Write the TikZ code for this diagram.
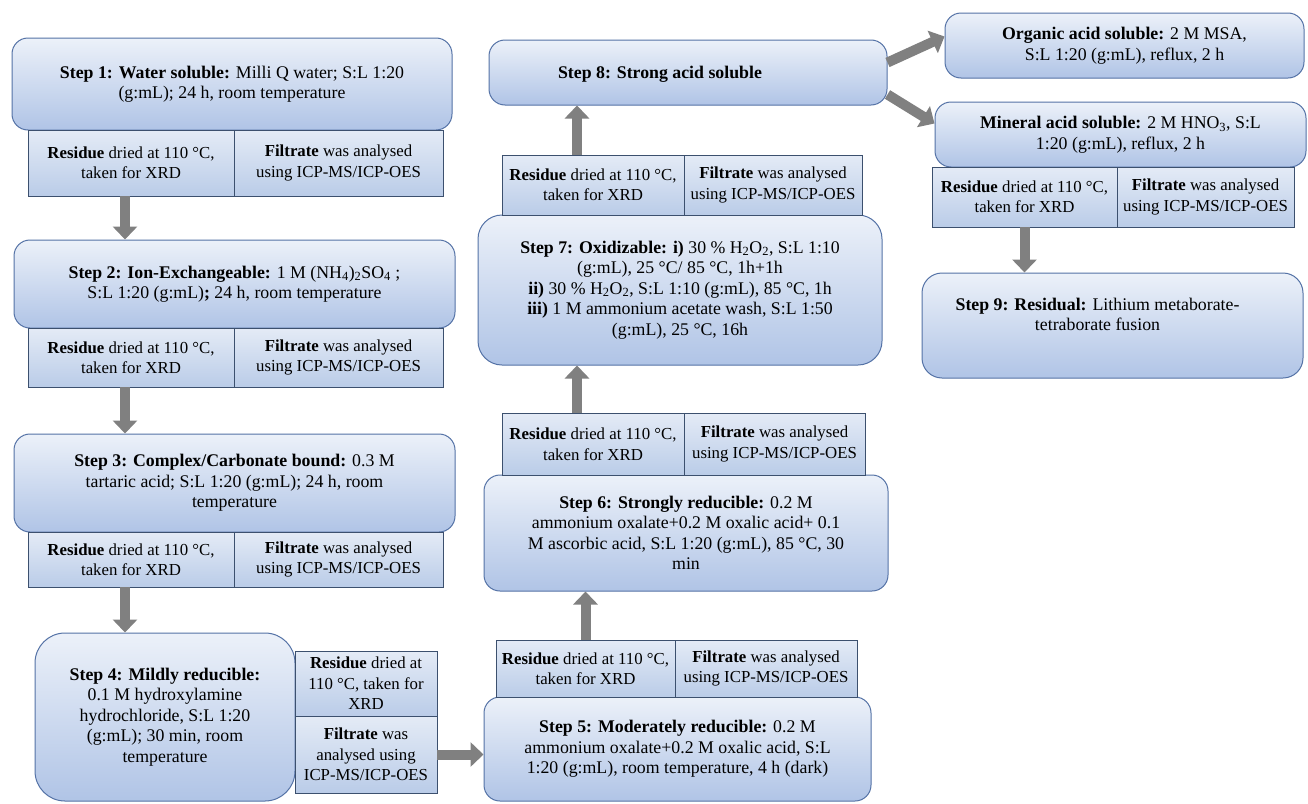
\documentclass[tikz,border=0pt]{standalone}
\usepackage{fontspec}
\setmainfont{Liberation Serif}
\usepackage{tikz}
\usetikzlibrary{arrows.meta}
\definecolor{boxline}{RGB}{84,114,166}
\definecolor{resline}{RGB}{60,80,110}
\definecolor{boxtop}{RGB}{236,241,249}
\definecolor{boxbottom}{RGB}{176,196,230}
\definecolor{restop}{RGB}{228,235,246}
\definecolor{resbottom}{RGB}{186,204,232}
\definecolor{arrowgray}{RGB}{128,128,128}
\newcommand{\residuetext}{\textbf{Residue} dried at 110 °C,\\ taken for XRD}
\newcommand{\filtratetext}{\textbf{Filtrate} was analysed\\ using ICP-MS/ICP-OES}
\tikzset{
  every node/.style={font=\fontsize{17.8}{20.5}\selectfont},
  stepbox/.style={draw=boxline, line width=1pt, rounded corners=16pt,
    top color=boxtop, bottom color=boxbottom, align=center, inner sep=0pt},
  resbox/.style={draw=resline, line width=0.8pt, top color=restop,
    bottom color=resbottom, align=center, inner sep=0pt,
    font=\fontsize{16.8}{20.5}\selectfont},
  flowarrow/.style={draw=arrowgray, line width=10pt,
    -{Triangle[width=24pt,length=13pt]}}
}

\begin{document}
\begin{tikzpicture}[x=1pt, y=-1pt]
\useasboundingbox[fill=white] (0,0) rectangle (1308,803);

\node[stepbox, minimum width=440pt, minimum height=92pt] (s1) at (232,84)
  {\textbf{Step 1: Water soluble:} Milli Q water; S:L 1:20\\ (g:mL); 24 h, room temperature};
\node[resbox, minimum width=206pt, minimum height=66pt] (r1l) at (131,163) {\residuetext};
\node[resbox, minimum width=209pt, minimum height=66pt] (r1r) at (338.5,163) {\filtratetext};

\node[stepbox, minimum width=441pt, minimum height=88pt] (s2) at (234.5,284)
  {\textbf{Step 2: Ion-Exchangeable:} 1 M (NH\textsubscript{4})\textsubscript{2}SO\textsubscript{4} ;\\
   S:L 1:20 (g:mL)\textbf{;} 24 h, room temperature};
\node[resbox, minimum width=206pt, minimum height=59pt] (r2l) at (131,357.5) {\residuetext};
\node[resbox, minimum width=209pt, minimum height=59pt] (r2r) at (338.5,357.5) {\filtratetext};

\node[stepbox, minimum width=441pt, minimum height=98pt] (s3) at (234.5,483)
  {\textbf{Step 3: Complex/Carbonate bound:} 0.3 M\\ tartaric acid; S:L 1:20 (g:mL); 24 h, room\\ temperature};
\node[resbox, minimum width=206pt, minimum height=55pt] (r3l) at (131,559.5) {\residuetext};
\node[resbox, minimum width=209pt, minimum height=55pt] (r3r) at (338.5,559.5) {\filtratetext};

\node[stepbox, rounded corners=30pt, minimum width=260pt, minimum height=168pt] (s4) at (165,717)
  {\textbf{Step 4: Mildly reducible:}\\ 0.1 M hydroxylamine\\ hydrochloride, S:L 1:20\\ (g:mL); 30 min, room\\ temperature};
\node[resbox, minimum width=142pt, minimum height=65pt] (r4r) at (366,683.5)
  {\textbf{Residue} dried at\\ 110 °C, taken for\\ XRD};
\node[resbox, minimum width=142pt, minimum height=77pt] (r4f) at (366,754.5)
  {\textbf{Filtrate} was\\ analysed using\\ ICP-MS/ICP-OES};

\node[stepbox, minimum width=387pt, minimum height=104pt] (s5) at (677.5,749)
  {\textbf{Step 5: Moderately reducible:} 0.2 M\\ ammonium oxalate+0.2 M oxalic acid, S:L\\ 1:20 (g:mL), room temperature, 4 h (dark)};
\node[resbox, minimum width=179pt, minimum height=57pt] (r5l) at (585.5,668.5) {\residuetext};
\node[resbox, minimum width=182pt, minimum height=57pt] (r5r) at (766,668.5) {\filtratetext};

\node[stepbox, minimum width=404pt, minimum height=116pt] (s6) at (686,533)
  {\textbf{Step 6: Strongly reducible:} 0.2 M\\ ammonium oxalate+0.2 M oxalic acid+ 0.1\\ M ascorbic acid, S:L 1:20 (g:mL), 85 °C, 30\\ min};
\node[resbox, minimum width=182pt, minimum height=62pt] (r6l) at (593,444) {\residuetext};
\node[resbox, minimum width=181pt, minimum height=62pt] (r6r) at (774.5,444) {\filtratetext};

\node[stepbox, rounded corners=24pt, minimum width=404pt, minimum height=150pt] (s7) at (680,290)
  {\textbf{Step 7: Oxidizable: i)} 30 \% H\textsubscript{2}O\textsubscript{2}, S:L 1:10\\
   (g:mL), 25 °C/ 85 °C, 1h+1h\\
   \textbf{ii)} 30 \% H\textsubscript{2}O\textsubscript{2}, S:L 1:10 (g:mL), 85 °C, 1h\\
   \textbf{iii)} 1 M ammonium acetate wash, S:L 1:50\\
   (g:mL), 25 °C, 16h};
\node[resbox, minimum width=182pt, minimum height=60pt] (r7l) at (593,185) {\residuetext};
\node[resbox, minimum width=178pt, minimum height=60pt] (r7r) at (773,185) {\filtratetext};

\node[stepbox, minimum width=398pt, minimum height=65pt,
  label={[xshift=-28pt, yshift=-2pt]center:\textbf{Step 8: Strong acid soluble}}] (s8) at (688,72.5) {};

\node[stepbox, minimum width=359pt, minimum height=65pt] (org) at (1124.5,45.5)
  {\textbf{Organic acid soluble:} 2 M MSA,\\ S:L 1:20 (g:mL), reflux, 2 h};
\node[stepbox, minimum width=371pt, minimum height=65pt] (min) at (1120.5,134.5)
  {\textbf{Mineral acid soluble:} 2 M HNO\textsubscript{3}, S:L\\ 1:20 (g:mL), reflux, 2 h};
\node[resbox, minimum width=185pt, minimum height=60pt] (r8l) at (1024.5,197) {\residuetext};
\node[resbox, minimum width=177pt, minimum height=60pt] (r8r) at (1205.5,197) {\filtratetext};

\node[stepbox, rounded corners=20pt, minimum width=381pt, minimum height=105pt,
  label={[align=center, xshift=-15pt, yshift=11pt]center:{\textbf{Step 9: Residual:} Lithium metaborate-\\ tetraborate fusion}}] (s9) at (1112.5,325.5) {};

\draw[flowarrow] ([xshift=-6pt]r1l.south) -- ([xshift=-6pt]r1l.south |- s2.north);
\draw[flowarrow] ([xshift=-6pt]r2l.south) -- ([xshift=-6pt]r2l.south |- s3.north);
\draw[flowarrow] ([xshift=-6pt]r3l.south) -- ([xshift=-6pt]r3l.south |- s4.north);
\draw[flowarrow] (r4f.east) -- (r4f.east -| s5.west);
\draw[flowarrow] (r5l.north) -- (r5l.north |- s6.south);
\draw[flowarrow] ([xshift=-16pt]r6l.north) -- ([xshift=-16pt]r6l.north |- s7.south);
\draw[flowarrow] ([xshift=-16pt]r7l.north) -- ([xshift=-16pt]r7l.north |- s8.south);
\draw[flowarrow] ([yshift=10pt]s8.east) -- ([yshift=9pt]org.west);
\draw[flowarrow] ([yshift=-22pt]s8.east) -- ([yshift=11pt]min.west);
\draw[flowarrow] (r8l.south) -- (r8l.south |- s9.north);
\end{tikzpicture}
\end{document}
